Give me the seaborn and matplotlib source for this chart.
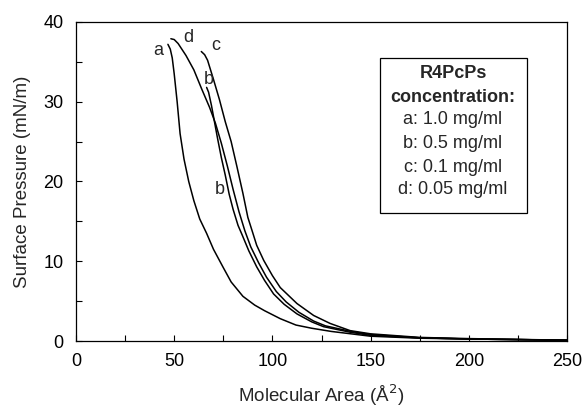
import matplotlib
matplotlib.use("Agg")
import matplotlib.pyplot as plt
import seaborn as sns
import pandas as pd
from matplotlib.patches import Rectangle

# ---- data ----
a_x = [46.8, 48.0, 49.0, 50.0, 51.5, 53.0, 55.0, 57.4, 60.0, 63.0, 66.5, 70.0, 75.0, 79.0, 85.0, 91.0, 96.0, 104.0, 112.0, 120.0, 130.0, 140.0, 150.0, 175.0, 200.0, 250.0]
a_y = [37.2, 36.6, 35.5, 33.5, 30.0, 26.0, 22.8, 20.0, 17.6, 15.3, 13.5, 11.5, 9.2, 7.4, 5.6, 4.5, 3.8, 2.8, 2.0, 1.6, 1.2, 0.9, 0.6, 0.35, 0.25, 0.1]

b_x = [66.5, 67.5, 69.0, 70.5, 72.0, 74.0, 76.0, 78.0, 80.0, 82.5, 84.6, 88.0, 92.0, 96.0, 100.6, 106.0, 112.5, 120.0, 126.0, 139.6, 150.0, 175.0, 200.0, 250.0]
b_y = [31.8, 31.2, 29.5, 27.5, 25.5, 23.0, 20.8, 18.4, 16.5, 14.5, 13.3, 11.3, 9.3, 7.6, 5.9, 4.6, 3.4, 2.4, 1.8, 1.1, 0.7, 0.4, 0.25, 0.1]

c_x = [63.8, 65.5, 67.0, 70.0, 73.0, 76.0, 79.0, 82.0, 85.0, 87.5, 89.7, 92.0, 95.6, 100.0, 104.0, 112.5, 121.0, 129.4, 139.6, 150.0, 175.0, 200.0, 250.0]
c_y = [36.3, 35.9, 35.2, 32.8, 30.3, 27.5, 25.0, 21.8, 18.5, 15.5, 13.8, 12.0, 10.1, 8.2, 6.7, 4.7, 3.2, 2.2, 1.3, 0.9, 0.45, 0.3, 0.1]

d_x = [48.3, 50.0, 52.0, 56.0, 60.0, 64.0, 68.0, 71.0, 74.0, 77.0, 80.0, 83.0, 86.0, 89.0, 93.0, 97.0, 102.0, 107.0, 113.5, 121.0, 127.0, 140.0, 150.0, 175.0, 200.0, 250.0]
d_y = [37.9, 37.8, 37.3, 35.8, 34.0, 31.6, 29.3, 27.3, 24.8, 22.0, 19.0, 16.2, 13.8, 11.8, 9.8, 8.0, 6.2, 4.9, 3.6, 2.5, 1.9, 1.2, 0.8, 0.4, 0.25, 0.1]

curve_names = ["a", "b", "c", "d"]
label_x = [41.9, 67.6, 71.4, 57.2]
label_y = [36.4, 32.8, 37.1, 38.0]
extra_b_label = (73.1, 19.0)

legend_lines = ["R4PcPs", "concentration:", "a: 1.0 mg/ml", "b: 0.5 mg/ml",
                "c: 0.1 mg/ml", "d: 0.05 mg/ml"]

xticks = [0, 50, 100, 150, 200, 250]
yticks = [0, 10, 20, 30, 40]

# ---- build long table ----
frames = []
for name, xs, ys in zip(curve_names, [a_x, b_x, c_x, d_x], [a_y, b_y, c_y, d_y]):
    frames.append(pd.DataFrame({"area": xs, "pressure": ys, "curve": name}))
df = pd.concat(frames, ignore_index=True)

sns.set_theme(style="ticks")
plt.rcParams["font.family"] = ["Liberation Sans", "DejaVu Sans"]

fig = plt.figure(figsize=(5.87, 4.16), dpi=100)
ax = fig.add_axes([76 / 587, 1 - 341 / 416, (567 - 76) / 587, (341 - 22) / 416])

sns.lineplot(data=df, x="area", y="pressure", hue="curve", units="curve",
             estimator=None, sort=False, palette=["black"] * 4,
             linewidth=1.1, legend=False, ax=ax)

ax.set_xlim(0, 250)
ax.set_ylim(0, 40)
ax.set_xticks(xticks)
ax.set_yticks(yticks)
ax.set_xticks(range(0, 251, 25), minor=True)
ax.set_yticks(range(0, 41, 5), minor=True)
ax.tick_params(axis="both", which="both", direction="in", length=4, width=0.8,
               colors="black", labelsize=13)
ax.tick_params(axis="x", which="major", pad=9)
ax.tick_params(axis="y", which="major", pad=9)
for s in ax.spines.values():
    s.set_linewidth(0.9)
    s.set_color("black")
    s.set_visible(True)

ax.set_xlabel("Molecular Area (Å$^2$)", fontsize=13.5, labelpad=9)
ax.set_ylabel("Surface Pressure (mN/m)", fontsize=13.5, labelpad=9)

for n, lx, ly in zip(curve_names, label_x, label_y):
    ax.text(lx, ly, n, fontsize=13, ha="center", va="center")
ax.text(extra_b_label[0], extra_b_label[1], "b", fontsize=13, ha="center", va="center")

# legend box
fig.patches.append(Rectangle((380 / 587, 1 - 213 / 416), (527 - 380) / 587,
                             (213 - 58) / 416, transform=fig.transFigure,
                             fill=False, edgecolor="black", linewidth=0.9))
ys_px = [73, 97, 120, 143, 167, 190]
for i, (txt, yp) in enumerate(zip(legend_lines, ys_px)):
    fig.text(453 / 587, 1 - yp / 416, txt, ha="center", va="center",
             fontsize=13, fontweight="bold" if i < 2 else "normal")

fig.savefig("out.png", dpi=100)
